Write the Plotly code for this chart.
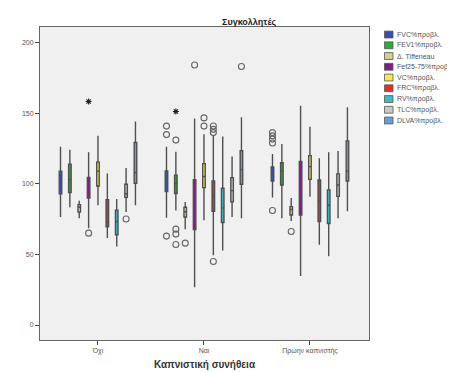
import plotly.graph_objects as go

categories = ["Όχι", "Ναι", "Πρώην καπνιστής"]
series_names = ["FVC%προβλ.", "FEV1%προβλ.", "Δ. Tiffeneau", "Fef25-75%προβλ.", "VC%προβλ.",
                "FRC%προβλ.", "RV%προβλ.", "TLC%προβλ.", "DLVA%προβλ."]
colors = ["#3a50a8", "#2eaa3c", "#d6cf90", "#7c1f80", "#f2ea4c", "#e0302c", "#3ebcc2", "#c9c9c9", "#6c9cd2"]

# (lower whisker, Q1, median, Q3, upper whisker) per category
fvc = [(76.5, 93.0, 105.7, 109.0, 126.3), (76.0, 94.5, 102.2, 109.2, 126.3), (90.4, 102.0, 106.6, 111.9, 121.2)]
fev1 = [(83.4, 93.9, 103.2, 114.0, 124.2), (81.1, 93.2, 100.1, 106.2, 122.8), (75.6, 99.2, 109.0, 115.0, 128.2)]
tiff = [(75.6, 80.0, 83.4, 85.3, 88.1), (67.9, 76.5, 80.2, 83.4, 87.2), (73.7, 77.9, 81.8, 83.9, 90.0)]
fef = [(68.6, 90.0, 99.2, 104.5, 122.4), (26.7, 67.7, 87.2, 102.9, 146.3), (34.8, 77.9, 89.5, 115.9, 155.3)]
vc = [(84.8, 98.5, 109.0, 115.4, 134.0), (74.2, 97.3, 105.2, 114.3, 135.1), (90.9, 103.2, 112.2, 120.0, 140.5)]
frc = [(61.7, 69.5, 73.0, 88.8, 107.3), (49.4, 80.6, 91.1, 102.0, 134.0), (56.8, 73.3, 87.6, 102.7, 118.2)]
rv = [(55.6, 64.0, 73.3, 81.3, 89.3), (52.8, 72.6, 83.0, 96.9, 133.5), (48.7, 71.9, 84.8, 95.7, 122.4)]
tlc = [(80.0, 90.4, 93.0, 99.7, 111.2), (76.5, 87.2, 95.2, 104.3, 119.4), (75.6, 91.1, 99.2, 107.1, 123.3)]
dlva = [(84.8, 100.4, 108.0, 129.3, 144.2), (75.6, 99.7, 110.1, 123.5, 147.2), (80.6, 102.0, 109.0, 130.3, 154.3)]
stats = [fvc, fev1, tiff, fef, vc, frc, rv, tlc, dlva]

# outliers: (category index, value)
fvc_out = [(1, 140.9), (1, 134.9), (1, 63.0), (2, 136.3), (2, 134.0), (2, 131.7), (2, 128.9), (2, 81.1)]
fev1_out = [(1, 131.0), (1, 67.9), (1, 64.4), (1, 57.0)]
tiff_out = [(1, 58.0), (2, 66.3)]
fef_out = [(0, 65.1), (1, 184.2)]
vc_out = [(1, 146.7), (1, 140.9)]
frc_out = [(1, 141.0), (1, 138.6), (1, 136.3), (1, 45.0)]
rv_out = []
tlc_out = [(0, 75.1)]
dlva_out = [(1, 183.1)]
outliers = [fvc_out, fev1_out, tiff_out, fef_out, vc_out, frc_out, rv_out, tlc_out, dlva_out]

# extreme values (stars)
fev1_ext = [(1, 151.3)]
fef_ext = [(0, 158.3)]
extremes = {1: fev1_ext, 3: fef_ext}

step = 0.0884
bw = 0.024

fig = go.Figure()
for i, (name, col, st) in enumerate(zip(series_names, colors, stats)):
    xs = [c + (i - 4) * step for c in range(len(categories))]
    fig.add_trace(go.Box(
        x=xs, name=name,
        lowerfence=[s[0] for s in st], q1=[s[1] for s in st], median=[s[2] for s in st],
        q3=[s[3] for s in st], upperfence=[s[4] for s in st],
        width=bw, whiskerwidth=0, fillcolor=col,
        line=dict(color="#4f4f4f", width=1.4), boxpoints=False, showlegend=False,
    ))
    if outliers[i]:
        fig.add_trace(go.Scatter(
            x=[c + (i - 4) * step for c, v in outliers[i]], y=[v for c, v in outliers[i]],
            mode="markers", showlegend=False, hoverinfo="skip",
            marker=dict(symbol="circle-open", size=6, color="#666", line=dict(width=1.1)),
        ))
    if i in extremes:
        fig.add_trace(go.Scatter(
            x=[c + (i - 4) * step for c, v in extremes[i]], y=[v for c, v in extremes[i]],
            mode="markers", showlegend=False, hoverinfo="skip",
            marker=dict(symbol="asterisk-open", size=5, color="#222", line=dict(width=1.1)),
        ))

# manual legend
shapes = []
annotations = []
y0 = 26.7
dy = 10.95
for i, (name, col) in enumerate(zip(series_names, colors)):
    yc = y0 + i * dy
    shapes.append(dict(type="rect", xref="paper", yref="paper",
                       x0=(376.5 - 32) / 329, x1=(385 - 32) / 329,
                       y0=(338 - yc - 3.5) / 319, y1=(338 - yc + 3.5) / 319,
                       fillcolor=col, line=dict(color="#555", width=0.8)))
    annotations.append(dict(xref="paper", yref="paper", x=(386.5 - 32) / 329, y=(338 - yc) / 319,
                            text=name, showarrow=False, xanchor="left", yanchor="middle",
                            font=dict(size=7, color="#555")))

annotations.append(dict(xref="paper", yref="paper", x=(241 - 32) / 329, y=(338 - 13.5) / 319,
                        text="<b>Συγκολλητές</b>", showarrow=False, xanchor="center", yanchor="middle",
                        font=dict(size=9, color="#222")))

fig.update_layout(
    width=455, height=372,
    margin=dict(l=32, r=94, t=19, b=34),
    paper_bgcolor="white", plot_bgcolor="#f0f0f0",
    font=dict(family="Liberation Sans, Arial, sans-serif", size=7, color="#444"),
    boxmode="overlay",
    shapes=shapes, annotations=annotations,
    xaxis=dict(range=[-0.547, 2.557], tickvals=list(range(len(categories))), ticktext=categories,
               showgrid=False, zeroline=False, ticks="outside", ticklen=4, tickwidth=1.2, tickcolor="#444",
               showline=True, mirror=True, linecolor="#666", linewidth=1,
               tickfont=dict(size=7, color="#555"),
               title=dict(text="<b>Καπνιστική συνήθεια</b>", font=dict(size=10, color="#333"), standoff=6)),
    yaxis=dict(range=[-10.6, 211.1], tickvals=[0, 50, 100, 150, 200],
               showgrid=False, zeroline=False, ticks="outside", ticklen=4, tickwidth=1.2, tickcolor="#444",
               showline=True, mirror=True, linecolor="#666", linewidth=1,
               tickfont=dict(size=7, color="#555")),
)

fig.write_html("out.html")
